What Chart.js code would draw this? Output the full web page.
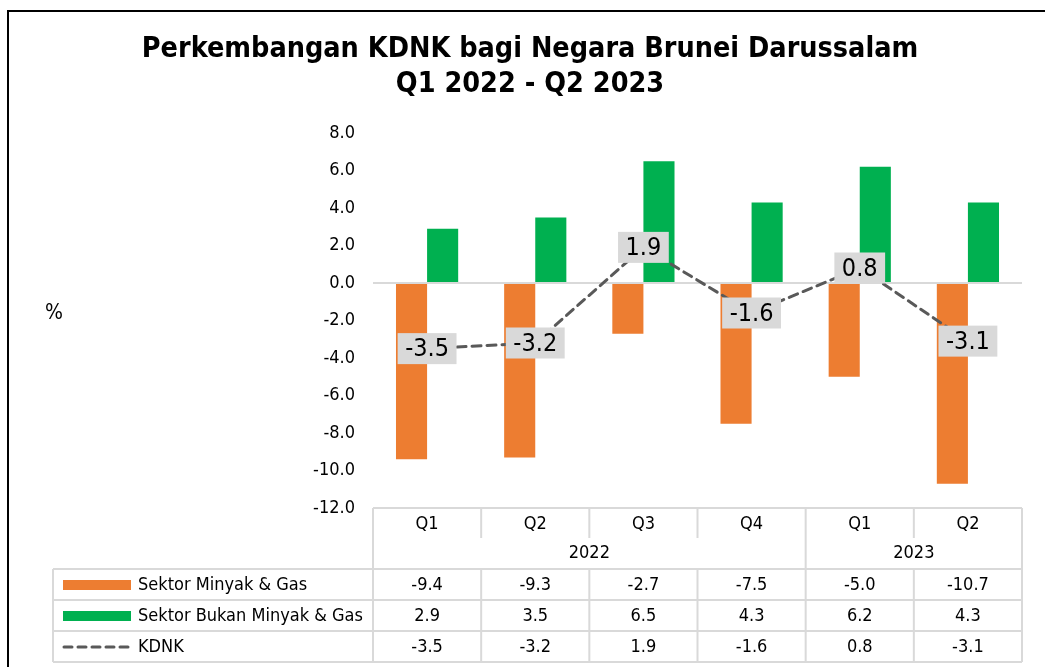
<!DOCTYPE html>
<html>
<head>
<meta charset="utf-8">
<script src="https://cdn.jsdelivr.net/npm/chart.js@4.4.0/dist/chart.umd.min.js"></script>
<style>
  html, body { margin: 0; padding: 0; background: #fff; }
  #wrap { width: 1045px; height: 667px; position: relative; }
</style>
</head>
<body>
<div id="wrap"><canvas id="kdnkChart" width="1045" height="667"></canvas></div>
<script>
var quarters = ['Q1', 'Q2', 'Q3', 'Q4', 'Q1', 'Q2'];
var years = ['2022', '2023'];
var yearSpans = [4, 2];
var minyakGas = [-9.4, -9.3, -2.7, -7.5, -5.0, -10.7];
var bukanMinyakGas = [2.9, 3.5, 6.5, 4.3, 6.2, 4.3];
var kdnk = [-3.5, -3.2, 1.9, -1.6, 0.8, -3.1];
var seriesNames = ['Sektor Minyak & Gas', 'Sektor Bukan Minyak & Gas', 'KDNK'];
var titleLines = ['Perkembangan KDNK bagi Negara Brunei Darussalam', 'Q1 2022 - Q2 2023'];

var FONT = "'DejaVu Sans Condensed', 'DejaVu Sans', sans-serif";
var ORANGE = '#ED7D31', GREEN = '#00B050', LINEGREY = '#595959', TABLEGREY = '#D9D9D9';

// frame, title, % label
var framePlugin = {
    id: 'frame',
    beforeDraw: function (chart) {
        var c = chart.ctx;
        c.save();
        c.strokeStyle = '#000';
        c.lineWidth = 2;
        c.beginPath();
        c.moveTo(8, 667); c.lineTo(8, 11); c.lineTo(1045, 11);
        c.stroke();
        c.fillStyle = '#000';
        c.textAlign = 'center';
        c.textBaseline = 'middle';
        c.font = 'bold 28.5px ' + FONT;
        c.fillText(titleLines[0], 530, 50);
        c.fillText(titleLines[1], 530, 85);
        c.font = '21px ' + FONT;
        c.fillText('%', 54, 314);
        c.restore();
    }
};

// grey boxes for KDNK values
var labelPlugin = {
    id: 'kdnkLabels',
    afterDatasetsDraw: function (chart) {
        var c = chart.ctx;
        var meta = chart.getDatasetMeta(2);
        c.save();
        c.font = '25px ' + FONT;
        c.textAlign = 'center';
        c.textBaseline = 'middle';
        meta.data.forEach(function (pt, i) {
            var txt = kdnk[i].toFixed(1);
            var w = c.measureText(txt).width + 15;
            var h = 31;
            c.fillStyle = TABLEGREY;
            c.fillRect(pt.x - w / 2, pt.y - h / 2, w, h);
            c.fillStyle = '#000';
            c.fillText(txt, pt.x, pt.y + 1);
        });
        c.restore();
    }
};

// data table under the plot
var tablePlugin = {
    id: 'dataTable',
    afterDraw: function (chart) {
        var c = chart.ctx;
        var x = chart.scales.x;
        var area = chart.chartArea;
        var n = quarters.length;
        var cw = (area.right - area.left) / n;
        var top = area.bottom;
        var rowQ = top + 30, rowY = top + 61;
        var rows = [rowY, rowY + 31, rowY + 62, rowY + 93];
        var legLeft = 53;
        c.save();
        c.strokeStyle = TABLEGREY;
        c.lineWidth = 2;
        c.beginPath();
        c.moveTo(area.left, top); c.lineTo(area.right, top);
        rows.forEach(function (ry) { c.moveTo(legLeft, ry); c.lineTo(area.right, ry); });
        c.moveTo(legLeft, rows[0]); c.lineTo(legLeft, rows[3]);
        c.moveTo(area.left, top); c.lineTo(area.left, rows[3]);
        c.moveTo(area.right, top); c.lineTo(area.right, rows[3]);
        for (var i = 1; i < n; i++) {
            var sx = x.getPixelForValue(i) - cw / 2;
            c.moveTo(sx, top); c.lineTo(sx, rowQ);
            c.moveTo(sx, rows[0]); c.lineTo(sx, rows[3]);
        }
        var acc = 0;
        for (var k = 0; k < yearSpans.length - 1; k++) {
            acc += yearSpans[k];
            var yx = x.getPixelForValue(acc) - cw / 2;
            c.moveTo(yx, rowQ); c.lineTo(yx, rows[0]);
        }
        c.stroke();

        c.fillStyle = '#000';
        c.font = '18px ' + FONT;
        c.textAlign = 'center';
        c.textBaseline = 'middle';
        quarters.forEach(function (q, i) { c.fillText(q, x.getPixelForValue(i), top + 16); });
        var start = 0;
        years.forEach(function (yr, k) {
            var x0 = x.getPixelForValue(start) - cw / 2;
            var x1 = x.getPixelForValue(start + yearSpans[k] - 1) + cw / 2;
            c.fillText(yr, (x0 + x1) / 2, rowQ + 15);
            start += yearSpans[k];
        });
        var series = [minyakGas, bukanMinyakGas, kdnk];
        series.forEach(function (s, r) {
            var cy = rows[r] + 16;
            s.forEach(function (v, i) { c.fillText(v.toFixed(1), x.getPixelForValue(i), cy); });
        });
        c.textAlign = 'left';
        series.forEach(function (s, r) {
            var cy = rows[r] + 16;
            if (r < 2) {
                c.fillStyle = r === 0 ? ORANGE : GREEN;
                c.fillRect(63, cy - 5, 68, 10);
            } else {
                c.save();
                c.strokeStyle = LINEGREY;
                c.lineWidth = 3;
                c.lineCap = 'round';
                c.setLineDash([8, 6]);
                c.beginPath();
                c.moveTo(64, cy); c.lineTo(132, cy);
                c.stroke();
                c.restore();
            }
            c.fillStyle = '#000';
            c.fillText(seriesNames[r], 138, cy);
        });
        c.restore();
    }
};

var ctx = document.getElementById('kdnkChart').getContext('2d');
var chart = new Chart(ctx, {
    data: {
        labels: quarters.map(function (q, i) { return q + ' ' + (i < 4 ? years[0] : years[1]); }),
        datasets: [{
            type: 'bar',
            label: seriesNames[0],
            data: minyakGas,
            backgroundColor: ORANGE,
            order: 2
        }, {
            type: 'bar',
            label: seriesNames[1],
            data: bukanMinyakGas,
            backgroundColor: GREEN,
            order: 2
        }, {
            type: 'line',
            label: seriesNames[2],
            data: kdnk,
            borderColor: LINEGREY,
            borderWidth: 3,
            borderDash: [9, 6],
            borderCapStyle: 'round',
            pointRadius: 0,
            tension: 0,
            order: 1
        }]
    },
    options: {
        responsive: false,
        animation: false,
        layout: { padding: { left: 0, top: 133, right: 23, bottom: 159 } },
        datasets: { bar: { categoryPercentage: 0.575, barPercentage: 1 } },
        plugins: { legend: { display: false }, tooltip: { enabled: false } },
        scales: {
            x: { display: false, offset: true },
            y: {
                min: -12, max: 8,
                afterFit: function (scale) { scale.width = 373; },
                border: { display: false },
                grid: {
                    drawTicks: false,
                    lineWidth: 2,
                    color: function (c) { return c.tick && c.tick.value === 0 ? TABLEGREY : 'rgba(0,0,0,0)'; }
                },
                ticks: {
                    stepSize: 2,
                    padding: 18,
                    color: '#000',
                    font: { family: FONT, size: 18 },
                    callback: function (v) { return Number(v).toFixed(1); }
                }
            }
        }
    },
    plugins: [framePlugin, labelPlugin, tablePlugin]
});
</script>
</body>
</html>
